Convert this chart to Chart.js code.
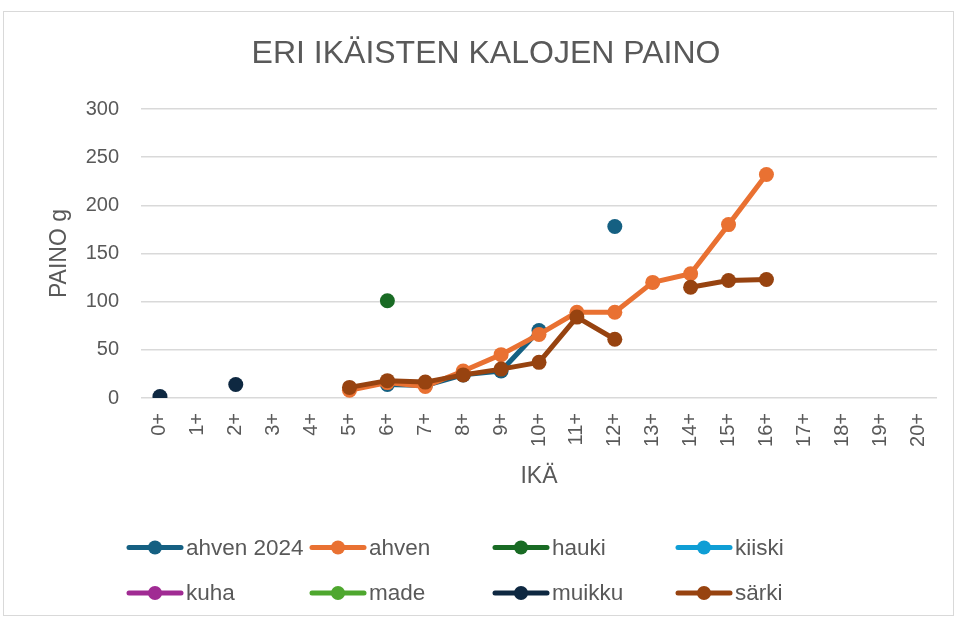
<!DOCTYPE html>
<html>
<head>
<meta charset="utf-8">
<script src="https://cdn.jsdelivr.net/npm/chart.js@4/dist/chart.umd.min.js"></script>
<style>
    html, body { margin: 0; padding: 0; background: #fff; }
    #wrap { position: relative; width: 957px; height: 621px; }
</style>
</head>
<body>
<div id="wrap"><canvas id="fishChart" width="957" height="621"></canvas></div>
<script>
// ikäluokat
const ages = ['0+', '1+', '2+', '3+', '4+', '5+', '6+', '7+', '8+', '9+', '10+',
    '11+', '12+', '13+', '14+', '15+', '16+', '17+', '18+', '19+', '20+'];

// painot grammoina, null = ei havaintoa
const ahven2024 = [null, null, null, null, null, null, 14, 13, 24, 28, 70, null, 178, null, null, null, null, null, null, null, null];
const ahven     = [null, null, null, null, null, 8, 16, 12, 28, 45, 66, 89, 89, 120, 129, 180, 232, null, null, null, null];
const hauki     = [null, null, null, null, null, null, 101, null, null, null, null, null, null, null, null, null, null, null, null, null, null];
const kiiski    = [null, null, null, null, null, null, null, null, null, null, null, null, null, null, null, null, null, null, null, null, null];
const kuha      = [null, null, null, null, null, null, null, null, null, null, null, null, null, null, null, null, null, null, null, null, null];
const made      = [null, null, null, null, null, null, null, null, null, null, null, null, null, null, null, null, null, null, null, null, null];
const muikku    = [1.5, null, 14, null, null, null, null, null, null, null, null, null, null, null, null, null, null, null, null, null, null];
const sarki     = [null, null, null, null, null, 11, 18, 16.5, 24, 30, 37, 84, 61, null, 115, 122, 123, null, null, null, null];

const seriesNames = ['ahven 2024', 'ahven', 'hauki', 'kiiski', 'kuha', 'made', 'muikku', 'särki'];
const seriesData = [ahven2024, ahven, hauki, kiiski, kuha, made, muikku, sarki];
const seriesColors = ['#156082', '#E97132', '#196B24', '#0F9ED5', '#A02B93', '#4EA72E', '#0E2841', '#974310'];

const yTicks = [0, 50, 100, 150, 200, 250, 300];
const chartTitle = 'ERI IKÄISTEN KALOJEN PAINO';

const FONT = "'Liberation Sans', Arial, sans-serif";
const TEXT = '#595959';

// kehys, otsikko ja oma legenda kiinteisiin sarakkeisiin
const frameAndLegend = {
    id: 'frameAndLegend',
    beforeDraw(chart) {
        const ctx = chart.ctx;
        ctx.save();
        ctx.strokeStyle = '#d9d9d9';
        ctx.lineWidth = 1;
        ctx.strokeRect(3.5, 11.5, 950, 604);
        ctx.restore();
    },
    afterDraw(chart) {
        const ctx = chart.ctx;
        ctx.save();
        ctx.font = '32px ' + FONT;
        ctx.fillStyle = TEXT;
        ctx.textAlign = 'center';
        ctx.textBaseline = 'middle';
        ctx.fillText(chartTitle, 486, 54);

        const cols = [127, 310, 493, 676];
        const rows = [547.5, 593];
        ctx.font = '22.5px ' + FONT;
        ctx.textAlign = 'left';
        chart.data.datasets.forEach((ds, i) => {
            const x = cols[i % 4];
            const y = rows[Math.floor(i / 4)];
            ctx.strokeStyle = ds.borderColor;
            ctx.lineWidth = 5;
            ctx.lineCap = 'round';
            ctx.beginPath();
            ctx.moveTo(x + 2, y);
            ctx.lineTo(x + 54, y);
            ctx.stroke();
            ctx.fillStyle = ds.backgroundColor;
            ctx.beginPath();
            ctx.arc(x + 28, y, 7, 0, Math.PI * 2);
            ctx.fill();
            ctx.fillStyle = TEXT;
            ctx.fillText(ds.label, x + 59, y + 1);
        });
        ctx.restore();
    }
};

const datasets = seriesNames.map((name, i) => ({
    label: name,
    data: seriesData[i],
    borderColor: seriesColors[i],
    backgroundColor: seriesColors[i],
    pointBackgroundColor: seriesColors[i],
    pointBorderColor: seriesColors[i],
    pointBorderWidth: 0,
    pointRadius: 7.5,
    borderWidth: 5,
    borderCapStyle: 'round',
    borderJoinStyle: 'round',
    spanGaps: false,
    order: seriesNames.length - 1 - i
}));

new Chart(document.getElementById('fishChart'), {
    type: 'line',
    data: { labels: ages, datasets: datasets },
    plugins: [frameAndLegend],
    options: {
        responsive: false,
        animation: false,
        layout: { padding: { top: 109, left: 0, right: 20, bottom: 113 } },
        plugins: {
            legend: { display: false },
            tooltip: { enabled: false },
            title: { display: false }
        },
        scales: {
            x: {
                offset: true,
                afterFit: scale => { scale.height = 110; },
                grid: { display: false },
                border: { display: false },
                ticks: {
                    color: TEXT,
                    font: { family: FONT, size: 20 },
                    minRotation: 90,
                    maxRotation: 90,
                    autoSkip: false,
                    padding: 7
                },
                title: {
                    display: true,
                    text: 'IKÄ',
                    color: TEXT,
                    font: { family: FONT, size: 23 },
                    padding: { top: 0, bottom: 18 }
                }
            },
            y: {
                min: 0,
                max: 300,
                afterFit: scale => { scale.width = 141; },
                afterBuildTicks: scale => { scale.ticks = yTicks.map(v => ({ value: v })); },
                grid: { color: '#d9d9d9', lineWidth: 1.5, drawTicks: false },
                border: { display: false },
                ticks: {
                    color: TEXT,
                    font: { family: FONT, size: 20 },
                    padding: 22
                },
                title: {
                    display: true,
                    text: 'PAINO g',
                    color: TEXT,
                    font: { family: FONT, size: 23 },
                    padding: { top: 46, bottom: 0 }
                }
            }
        }
    }
});
</script>
</body>
</html>
